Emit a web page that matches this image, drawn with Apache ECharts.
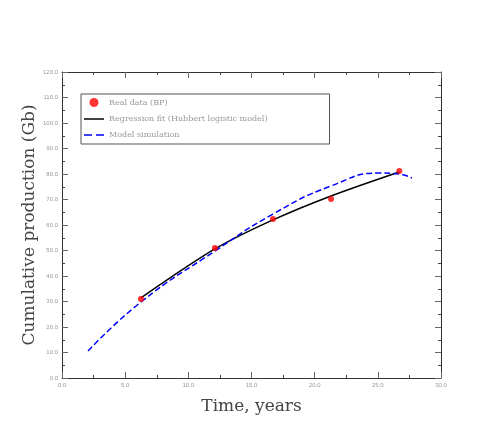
<!DOCTYPE html>
<html><head><meta charset="utf-8">
<script src="https://cdn.jsdelivr.net/npm/echarts@6/dist/echarts.min.js"></script>
<style>html,body{margin:0;padding:0;background:#fff}#c{width:491px;height:436px}</style>
</head><body><div id="c"></div>
<script>
var xTicks = [0, 5, 10, 15, 20, 25, 30];
var yTicks = [0, 10, 20, 30, 40, 50, 60, 70, 80, 90, 100, 110, 120];
var realX = [6.25, 12.1, 16.7, 21.3, 26.7];
var realY = [31.0, 51.0, 62.4, 70.2, 81.2];
var fitX = [6.25, 12.1, 16.7, 21.3, 26.7];
var fitY = [31.4, 50.6, 62.0, 71.4, 80.8];
var modelX = [2.06, 6.25, 12.11, 16.70, 21.29, 25.17, 26.68, 27.70];
var modelY = [10.6, 29.8, 49.8, 64.3, 75.3, 80.4, 80.0, 78.4];
var names = ['Real data (BP)', 'Regression fit (Hubbert logistic model)', 'Model simulation'];

function pairs(a, b) { return a.map(function (v, i) { return [v, b[i]]; }); }
var chart = echarts.init(document.getElementById('c'));
var axisLine = { show: true, onZero: false, lineStyle: { color: '#333', width: 1 } };
var tickStyle = { show: true, inside: true, length: 6, lineStyle: { color: '#666' } };
var minorStyle = { show: true, splitNumber: 2, length: 3, lineStyle: { color: '#444' } };
chart.setOption({
  animation: false,
  grid: { left: 62, right: 50, top: 72, bottom: 58 },
  legend: {
    orient: 'vertical', left: 81, top: 94,
    backgroundColor: '#fff', borderColor: '#555', borderWidth: 1,
    padding: [4, 62, 5, 3], itemGap: 8, itemWidth: 20, itemHeight: 9,
    textStyle: { fontSize: 8, color: '#999', fontFamily: 'DejaVu Serif' },
    data: [
      { name: names[0], icon: 'path://M3,3 A3,3 0 1 1 3.01,3 Z' },
      { name: names[1], icon: 'path://M0,4 L20,4 L20,5.5 L0,5.5 Z' },
      { name: names[2], icon: 'path://M0,4 L8,4 L8,5.5 L0,5.5 Z M12,4 L20,4 L20,5.5 L12,5.5 Z' }
    ]
  },
  xAxis: [
    { type: 'value', min: 0, max: 30, interval: 5, position: 'bottom',
      name: 'Time, years', nameLocation: 'middle', nameGap: 20, nameMoveOverlap: false,
      nameTextStyle: { fontSize: 17, color: '#444', fontFamily: 'DejaVu Serif' },
      axisLine: axisLine, axisTick: tickStyle, minorTick: minorStyle, splitLine: { show: false },
      axisLabel: { fontSize: 6, color: '#999', margin: 4, formatter: function (v) { return v.toFixed(1); } } },
    { type: 'value', min: 0, max: 30, interval: 5, position: 'top',
      axisLine: axisLine, axisTick: tickStyle, minorTick: minorStyle, splitLine: { show: false },
      axisLabel: { show: false } }
  ],
  yAxis: [
    { type: 'value', min: 0, max: 120, interval: 10, position: 'left',
      name: 'Cumulative production (Gb)', nameLocation: 'middle', nameGap: 24, nameMoveOverlap: false,
      nameTextStyle: { fontSize: 17, color: '#444', fontFamily: 'DejaVu Serif' },
      axisLine: axisLine, axisTick: tickStyle, minorTick: minorStyle, splitLine: { show: false },
      axisLabel: { fontSize: 6, color: '#999', margin: 4, formatter: function (v) { return v.toFixed(1); } } },
    { type: 'value', min: 0, max: 120, interval: 10, position: 'right',
      axisLine: axisLine, axisTick: tickStyle, minorTick: minorStyle, splitLine: { show: false },
      axisLabel: { show: false } }
  ],
  series: [
    { name: names[0], type: 'scatter', symbol: 'circle', symbolSize: 6, z: 5,
      itemStyle: { color: '#ff0000' }, data: pairs(realX, realY) },
    { name: names[1], type: 'line', smooth: 0.3, showSymbol: false, symbol: 'none',
      lineStyle: { color: '#000', width: 1.5 }, itemStyle: { color: '#000' }, data: pairs(fitX, fitY) },
    { name: names[2], type: 'line', smooth: 0.5, showSymbol: false, symbol: 'none',
      lineStyle: { color: '#0000ff', width: 1.5, type: [6, 3] }, itemStyle: { color: '#0000ff' }, data: pairs(modelX, modelY) }
  ]
});
</script></body></html>
